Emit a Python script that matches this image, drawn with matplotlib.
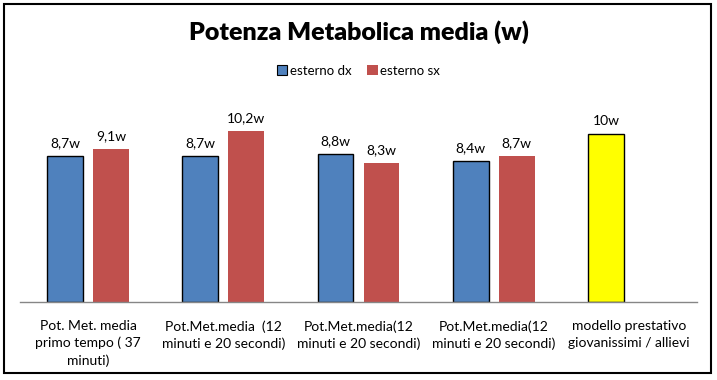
import matplotlib.pyplot as plt
import numpy as np
from matplotlib.patches import Rectangle, Patch

categories = [
    "Pot. Met. media\nprimo tempo ( 37\nminuti)",
    "Pot.Met.media  (12\nminuti e 20 secondi)",
    "Pot.Met.media(12\nminuti e 20 secondi)",
    "Pot.Met.media(12\nminuti e 20 secondi)",
    "modello prestativo\ngiovanissimi / allievi",
]
esterno_dx = [8.7, 8.7, 8.8, 8.4, 10.0]
esterno_sx = [9.1, 10.2, 8.3, 8.7, np.nan]
dx_labels = ["8,7w", "8,7w", "8,8w", "8,4w", "10w"]
sx_labels = ["9,1w", "10,2w", "8,3w", "8,7w", ""]

BLUE = "#4f81bd"
RED = "#c0504d"
YELLOW = "#ffff00"

plt.rcParams["font.family"] = ["Lato", "DejaVu Sans"]

fig = plt.figure(figsize=(7.17, 3.8), dpi=100)
ax = fig.add_axes([20.4 / 717, 78 / 380, 676.2 / 717, 201.4 / 380])

x = np.arange(len(categories))
width = 0.266
offset = 0.17

# last point of "esterno dx" is the reference model, drawn in yellow
dx_colors = [BLUE] * 4 + [YELLOW]
bars_dx = ax.bar(x - offset, esterno_dx, width, color=dx_colors,
                 edgecolor="black", linewidth=1.0)
bars_sx = ax.bar(x + offset, esterno_sx, width, color=RED, linewidth=0)

for bar, lab in zip(bars_dx, dx_labels):
    ax.annotate(lab, (bar.get_x() + bar.get_width() / 2, bar.get_height()),
                xytext=(0, 5), textcoords="offset points",
                ha="center", va="bottom", fontsize=10)
for bar, lab in zip(bars_sx, sx_labels):
    if lab:
        ax.annotate(lab, (bar.get_x() + bar.get_width() / 2, bar.get_height()),
                    xytext=(0, 5), textcoords="offset points",
                    ha="center", va="bottom", fontsize=10)

ax.set_xlim(-0.5, len(categories) - 0.5)
ax.set_ylim(0, 12)
ax.set_xticks(x)
ax.set_xticklabels(categories, fontsize=10, linespacing=1.45)
ax.tick_params(axis="x", length=0, pad=13)
ax.set_yticks([])
for side in ["top", "right", "left"]:
    ax.spines[side].set_visible(False)
ax.spines["bottom"].set_color("#868686")
ax.spines["bottom"].set_linewidth(1.0)

fig.text(0.5, 1 - 32 / 380, "Potenza Metabolica media (w)",
         ha="center", va="center", fontsize=18, fontweight="heavy")

handles = [Patch(facecolor=BLUE, edgecolor="black", linewidth=0.8),
           Patch(facecolor=RED)]
fig.legend(handles, ["esterno dx", "esterno sx"], loc="center",
           bbox_to_anchor=(0.5, 1 - 71 / 380), ncol=2, frameon=False,
           fontsize=9.5, handlelength=0.8, handleheight=0.8,
           handletextpad=0.2, columnspacing=1.2)

fig.patches.append(Rectangle((4 / 717, 7 / 380), 707 / 717, 369 / 380,
                             transform=fig.transFigure, fill=False,
                             edgecolor="black", linewidth=1.5))

fig.savefig("out.png", dpi=100)
